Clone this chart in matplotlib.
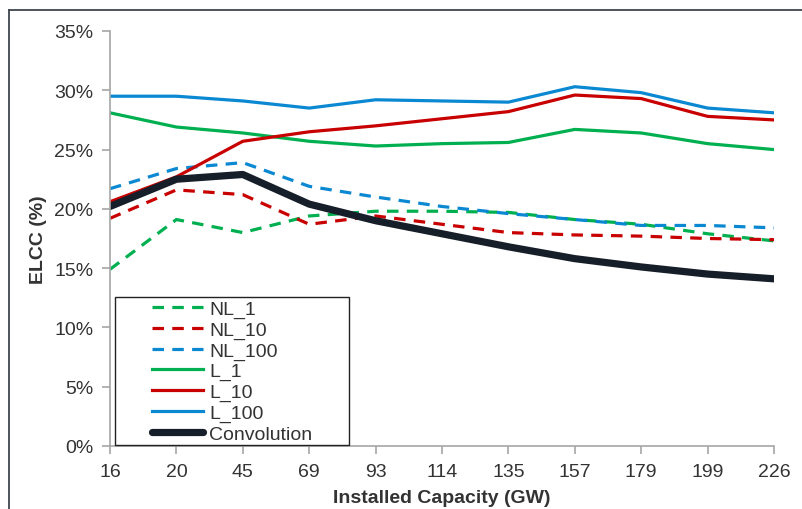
import numpy as np
import matplotlib
matplotlib.use("Agg")
import matplotlib.pyplot as plt
from matplotlib.lines import Line2D
from matplotlib.patches import Rectangle

# ELCC by installed capacity (in %)
capacity = ["16", "20", "45", "69", "93", "114", "135", "157", "179", "199", "226"]

nl_1 = [14.9, 19.1, 18.0, 19.4, 19.8, 19.8, 19.7, 19.1, 18.7, 17.9, 17.3]
nl_10 = [19.2, 21.6, 21.2, 18.7, 19.4, 18.7, 18.0, 17.8, 17.7, 17.5, 17.4]
nl_100 = [21.7, 23.4, 23.9, 21.9, 21.0, 20.2, 19.6, 19.1, 18.6, 18.6, 18.4]
l_1 = [28.1, 26.9, 26.4, 25.7, 25.3, 25.5, 25.6, 26.7, 26.4, 25.5, 25.0]
l_10 = [20.6, 22.7, 25.7, 26.5, 27.0, 27.6, 28.2, 29.6, 29.3, 27.8, 27.5]
l_100 = [29.5, 29.5, 29.1, 28.5, 29.2, 29.1, 29.0, 30.3, 29.8, 28.5, 28.1]
convolution = [20.2, 22.5, 22.9, 20.4, 19.0, 17.9, 16.8, 15.8, 15.1, 14.5, 14.1]

GREEN = "#00B050"
RED = "#C80000"
BLUE = "#0A88D2"
BLACK = "#161E29"
TXT = "#333333"

plt.rcParams["font.family"] = ["Liberation Sans", "DejaVu Sans"]
plt.rcParams["font.size"] = 14

fig = plt.figure(figsize=(8.02, 5.10), dpi=100)
ax = fig.add_axes([110 / 802, 63 / 510, 664 / 802, 415 / 510])

x = np.arange(len(capacity))
dash = (3.6, 2.6)
lw = 2.3

ax.plot(x, nl_1, color=GREEN, lw=lw, dashes=dash, label="NL_1")
ax.plot(x, nl_10, color=RED, lw=lw, dashes=dash, label="NL_10")
ax.plot(x, nl_100, color=BLUE, lw=lw, dashes=dash, label="NL_100")
ax.plot(x, l_1, color=GREEN, lw=lw, label="L_1")
ax.plot(x, l_10, color=RED, lw=lw, label="L_10")
ax.plot(x, l_100, color=BLUE, lw=lw, label="L_100")
ax.plot(x, convolution, color=BLACK, lw=5.2, solid_capstyle="round",
        label="Convolution")

ax.set_xlim(0, len(capacity) - 1)
ax.set_ylim(0, 35)
ax.set_xticks(x)
ax.set_xticklabels(capacity)
ax.set_yticks(np.arange(0, 36, 5))
ax.set_yticklabels([f"{v}%" for v in range(0, 36, 5)])

for s in ["top", "right"]:
    ax.spines[s].set_visible(False)
for s in ["left", "bottom"]:
    ax.spines[s].set_color("#A6A6A6")
    ax.spines[s].set_linewidth(1.2)
ax.tick_params(colors="#A6A6A6", labelcolor=TXT, length=6, width=1.2)
ax.tick_params(axis="x", pad=6)
ax.tick_params(axis="y", pad=6)

ax.set_xlabel("Installed Capacity (GW)", fontweight="bold", color=TXT, labelpad=7)
ax.set_ylabel("ELCC (%)", fontweight="bold", color=TXT, labelpad=5)

# legend box is wider than the entries, so the frame is drawn by hand
frame = Rectangle((0.0075, 0.0025), 0.352, 0.357, transform=ax.transAxes,
                  facecolor="white", edgecolor="#222222", lw=1.0, zorder=4,
                  clip_on=False)
ax.add_patch(frame)
leg = ax.legend(loc="upper left", bbox_to_anchor=(0.063, 0.352), frameon=False,
                borderpad=0, borderaxespad=0, handlelength=2.65,
                handletextpad=0.3, labelspacing=0.16)
leg.set_zorder(5)
for t in leg.get_texts():
    t.set_color(TXT)

# outer border of the figure (left and top edges visible)
fig.add_artist(Line2D([9 / 802, 9 / 802], [0, 1 - 10.5 / 510], color="#3F454D",
                      lw=1.3, transform=fig.transFigure))
fig.add_artist(Line2D([9 / 802, 1], [1 - 10.5 / 510, 1 - 10.5 / 510],
                      color="#3F454D", lw=1.3, transform=fig.transFigure))

fig.savefig("out.png", dpi=100)
